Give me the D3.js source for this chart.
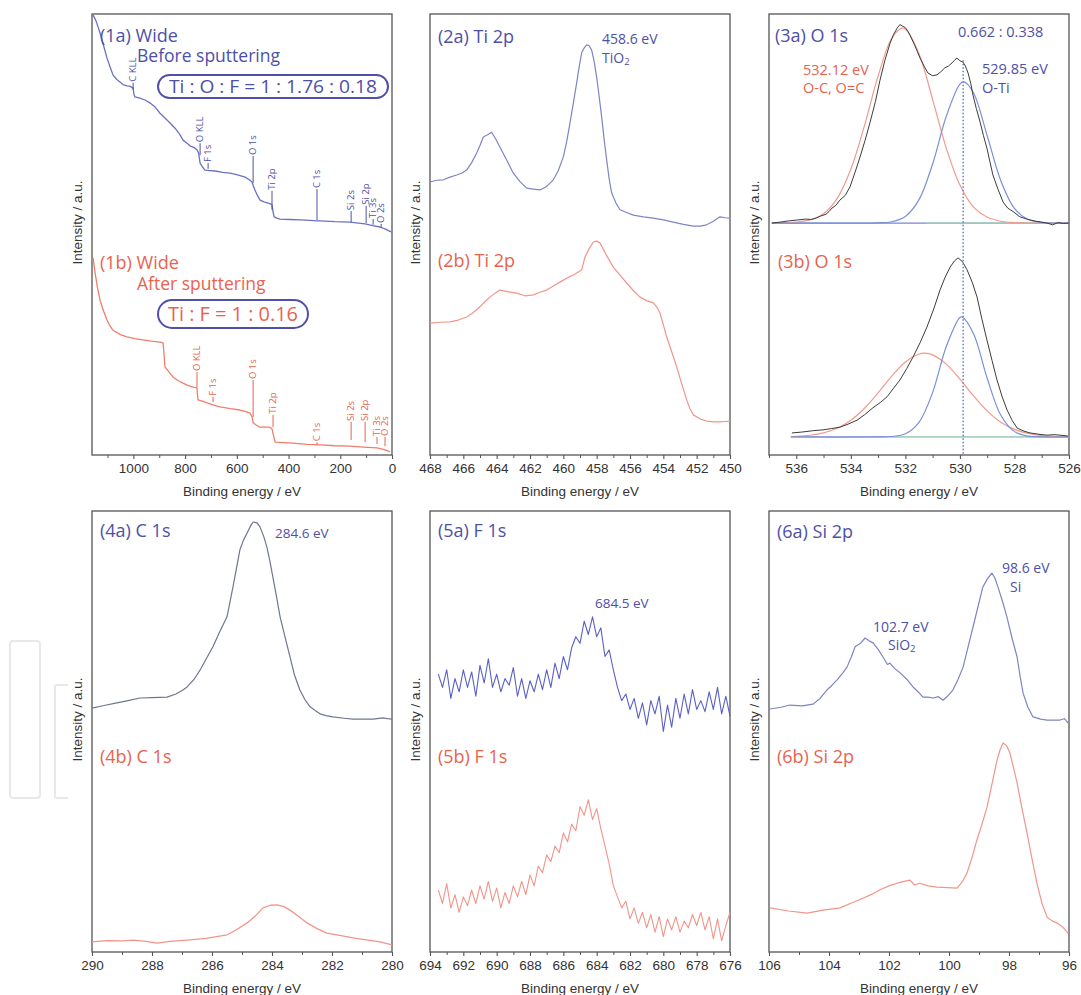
<!DOCTYPE html>
<html><head><meta charset="utf-8">
<script src="https://cdn.jsdelivr.net/npm/d3@7"></script>
<style>body{margin:0;background:#fff}svg{display:block}</style>
</head><body>
<svg id="c" width="1081" height="995"></svg>
<script>
// ---------------- DATA ----------------
// Panel 1: wide scans [binding energy eV, intensity a.u.]
const wideBefore = [[1156,99.8],[1145,98.5],[1135,96.8],[1129,95.7],[1115,92.8],[1102,90.0],[1090,88.0],[1079,86.2],[1065,85.2],[1052,84.6],[1040,84.0],[1025,83.7],[1012,83.6],[1001,83.2],[998,81.8],[994,81.2],[975,80.9],[955,80.5],[935,79.8],[916,78.9],[897,77.5],[878,76.4],[860,75.4],[839,74.1],[822,72.8],[808,71.4],[795,70.8],[781,70.1],[765,69.7],[754,69.2],[748,68.5],[742,66.2],[733,65.3],[723,64.6],[705,64.5],[684,64.4],[655,64.1],[626,63.9],[597,63.5],[568,63.0],[552,62.4],[541,61.9],[536,61.0],[530,60.1],[520,58.8],[510,57.8],[495,57.4],[479,57.1],[468,56.9],[464,56.7],[460,55.2],[456,54.0],[445,53.7],[433,53.5],[395,53.4],[356,53.3],[317,53.2],[290,53.1],[278,53.1],[220,52.9],[162,52.8],[130,52.6],[104,52.4],[75,52.0],[46,51.7],[25,51.2],[4,50.6]];
const wideAfter = [[1156,44.7],[1152,43.0],[1148,41.3],[1139,38.0],[1129,35.1],[1115,32.6],[1102,30.6],[1090,29.2],[1079,28.3],[1050,27.3],[1025,26.8],[995,26.4],[963,26.1],[930,25.8],[897,25.6],[885,25.4],[881,22.5],[878,20.0],[862,18.8],[847,17.7],[828,16.9],[808,16.3],[790,15.8],[769,15.4],[754,15.2],[752,13.5],[750,12.5],[733,12.2],[715,11.8],[690,11.3],[665,10.9],[625,10.5],[588,10.2],[568,9.9],[549,9.5],[541,8.6],[537,7.3],[525,6.8],[510,6.3],[490,6.3],[472,6.3],[464,5.9],[458,4.4],[452,2.9],[420,2.8],[383,2.7],[330,2.4],[278,2.3],[220,2.1],[162,2.0],[110,1.8],[58,1.6],[30,1.2],[8,0.7]];
const wideMarkerNames = ["C KLL","O KLL","F 1s","O 1s","Ti 2p","C 1s","Si 2s","Si 2p","Ti 3s","O 2s"];
const wideBeforeMarkerEV = [1001,742,711,537,464,290,158,100,73,42];
const wideBeforeMarkerFoot = [84.4,70.7,66.2,67.8,59.9,60.3,55.3,56.5,53.5,52.4];
const wideBeforeMarkerEnd = [82.8,68.0,64.9,61.7,55.6,53.3,52.8,52.6,52.2,51.5];
const wideAfterMarkerNames = ["O KLL","F 1s","O 1s","Ti 2p","C 1s","Si 2s","Si 2p","Ti 3s","O 2s"];
const wideAfterMarkerEV = [754,692,537,460,290,158,104,58,27];
const wideAfterMarkerFoot = [18.8,13.2,17.0,9.1,2.9,7.5,7.5,4.1,4.1];
const wideAfterMarkerEnd = [15.4,12.0,8.6,6.3,2.3,3.4,2.9,2.5,2.0];

// Panel 2: Ti 2p
const ti2pBefore = [[468,61.9],[467.6,62.3],[467.2,62.4],[466.8,63.0],[466.4,63.5],[466.1,63.9],[465.8,64.6],[465.5,66.3],[465.2,68.5],[465.0,70.2],[464.8,72.1],[464.55,72.6],[464.3,73.2],[464.05,71.6],[463.8,69.8],[463.4,66.9],[463.0,63.9],[462.6,62.0],[462.2,60.5],[461.8,60.3],[461.4,60.1],[461.0,60.9],[460.6,62.4],[460.3,64.5],[460.0,67.6],[459.8,71.0],[459.6,75.3],[459.4,79.8],[459.2,84.4],[459.05,88.0],[458.9,91.2],[458.75,92.3],[458.6,93.0],[458.45,92.8],[458.3,91.8],[458.15,89.2],[458.0,85.7],[457.85,81.3],[457.7,76.6],[457.55,71.5],[457.4,66.9],[457.25,62.6],[457.1,59.4],[456.85,57.2],[456.6,55.6],[456.2,55.0],[455.8,54.4],[455.2,54.0],[454.6,53.7],[454.0,53.3],[453.4,52.8],[452.8,52.3],[452.2,51.9],[451.8,51.9],[451.4,52.2],[451.0,53.0],[450.6,54.0],[450.3,53.8],[450,53.7]];
const ti2pAfter = [[468,29.9],[467.4,30.1],[466.8,30.2],[466.3,30.6],[465.8,31.3],[465.4,32.3],[465,33.6],[464.7,34.8],[464.4,35.8],[464.1,36.7],[463.8,37.4],[463.3,37.0],[462.8,36.7],[462.3,36.1],[461.8,36.3],[461.4,36.9],[461,37.4],[460.6,38.3],[460.2,39.2],[459.8,40.1],[459.4,40.8],[459.1,41.5],[458.9,42.0],[458.7,44.9],[458.45,46.8],[458.2,48.3],[458,48.5],[457.8,48.1],[457.4,45.2],[457,42.6],[456.6,40.8],[456.2,39.0],[455.8,37.3],[455.4,35.8],[455,35.0],[454.6,34.5],[454.4,33.6],[454.2,32.2],[454,29.5],[453.8,26.8],[453.5,23.4],[453.2,20.0],[452.9,16.2],[452.6,12.5],[452.4,10.5],[452.2,9.1],[451.8,8.2],[451.4,7.7],[451,7.5],[450.6,7.5],[450.3,7.6],[450,7.7]];

// Panel 3: O 1s with fitted components
const o1sBeforeEnvelope = [[536.89,52.6],[536.6,52.8],[536.26,53.1],[535.95,53.3],[535.64,53.5],[535.45,53.4],[535.28,53.7],[535.1,54.2],[534.91,54.6],[534.8,55.2],[534.69,56.0],[534.55,56.6],[534.4,57.8],[534.2,58.9],[534.03,60.8],[533.85,64.0],[533.66,67.6],[533.48,71.3],[533.3,75.3],[533.1,80.1],[532.93,85.0],[532.75,89.5],[532.56,93.4],[532.43,95.4],[532.3,96.8],[532.2,97.6],[532.12,97.3],[532.0,96.9],[531.9,96.0],[531.83,95.2],[531.65,92.8],[531.46,90.0],[531.3,88.0],[531.17,86.6],[531.0,86.0],[530.84,86.2],[530.7,86.9],[530.55,87.8],[530.42,88.2],[530.29,88.9],[530.2,89.5],[530.11,90.0],[530.0,89.4],[529.89,89.1],[529.8,88.2],[529.7,86.6],[529.6,84.2],[529.52,81.6],[529.4,78.6],[529.26,75.5],[529.14,72.5],[529.01,69.6],[528.9,66.5],[528.79,63.5],[528.6,60.2],[528.42,57.4],[528.25,56.0],[528.05,55.2],[527.8,54.0],[527.6,53.6],[527.43,53.3],[527.2,53.0],[527.0,52.8],[526.81,52.6],[526.6,52.2],[526.4,52.7],[526.2,52.5],[526.0,52.6]];
const o1sBeforeOC = [[536.9,52.6],[536.5,52.6],[536,52.8],[535.5,53.3],[535,54.7],[534.5,58.2],[534,64.8],[533.5,74.7],[533,85.9],[532.5,94.5],[532.12,96.8],[532,96.6],[531.5,91.0],[531,80.6],[530.5,69.6],[530,61.2],[529.5,56.2],[529,53.9],[528.5,53.0],[528,52.7],[527.5,52.6],[527,52.6],[526.5,52.6],[526,52.6]];
const o1sBeforeOTi = [[536.9,52.6],[534,52.6],[533,52.65],[532.5,52.9],[532,54.1],[531.5,57.9],[531,66.0],[530.5,76.8],[530,84.1],[529.85,84.6],[529.5,82.1],[529,72.4],[528.5,62.2],[528,55.9],[527.5,53.4],[527,52.75],[526.5,52.6],[526,52.6]];
const o1sAfterEnvelope = [[536.16,5.0],[535.8,5.2],[535.4,5.5],[535.02,5.7],[534.7,6.0],[534.4,6.3],[534.1,7.0],[533.77,7.9],[533.5,9.1],[533.19,10.7],[532.9,12.0],[532.67,13.2],[532.45,15.0],[532.2,17.0],[531.95,19.6],[531.72,22.2],[531.45,25.6],[531.21,29.0],[530.95,33.3],[530.73,37.4],[530.55,40.2],[530.36,42.6],[530.2,44.0],[530.07,44.7],[529.9,43.8],[529.74,42.0],[529.55,39.2],[529.37,35.8],[529.2,31.0],[529.01,26.1],[528.82,21.4],[528.64,17.0],[528.45,13.2],[528.27,10.2],[528.08,7.8],[527.9,6.1],[527.65,5.4],[527.43,5.0],[527.1,4.7],[526.81,4.5],[526.55,4.6],[526.33,4.5],[526.04,4.3]];
const o1sAfterOC = [[536.2,4.2],[536,4.24],[535.5,4.48],[535,5.0],[534.5,6.05],[534,7.86],[533.5,10.6],[533,14.1],[532.5,17.9],[532,21.1],[531.5,22.9],[531.3,23.1],[531,22.7],[530.5,20.6],[530,17.2],[529.5,13.4],[529,10.0],[528.5,7.4],[528,5.8],[527.5,4.9],[527,4.4],[526.5,4.2],[526,4.1]];
const o1sAfterOTi = [[536.2,4.1],[533,4.1],[532.5,4.2],[532,4.8],[531.5,7.4],[531,14.2],[530.5,24.6],[530,31.2],[529.92,31.3],[529.5,27.5],[529,17.4],[528.5,9.0],[528,5.3],[527.5,4.3],[527,4.1],[526,4.1]];
const o1sBaselineBefore = [[536.9,52.6],[526,52.6]];
const o1sBaselineBeforeGreen = [[531.2,52.6],[527,52.6]];
const o1sBaselineAfter = [[536.2,4.1],[526,4.1]];
const o1sBaselineAfterGreen = [[532.6,4.1],[526.6,4.1]];
const o1sOTiPosition = [[529.88,89.5],[529.88,0]];

// Panel 4: C 1s
const c1sBefore = [[290,55.3],[289.6,55.9],[289.17,56.5],[288.8,57.0],[288.4,57.6],[288.0,57.7],[287.5,57.8],[287.2,58.5],[286.97,59.4],[286.83,60.1],[286.6,61.8],[286.4,63.9],[286.2,66.4],[285.97,69.2],[285.75,72.5],[285.5,76.0],[285.3,82.8],[285.07,91.2],[284.95,93.4],[284.83,95.0],[284.7,96.8],[284.63,97.5],[284.5,97.3],[284.4,96.4],[284.28,94.3],[284.17,91.8],[284.07,88.6],[283.97,85.0],[283.85,80.6],[283.73,76.0],[283.55,71.0],[283.4,66.9],[283.25,62.8],[283.07,59.4],[282.9,57.2],[282.73,55.6],[282.55,54.7],[282.4,54.0],[282.2,53.6],[281.97,53.3],[281.6,53.0],[281.3,52.8],[280.9,52.8],[280.63,52.8],[280.3,53.1],[280.15,52.9],[280,52.8]];
const c1sAfter = [[290,2.3],[289.5,2.6],[289,2.5],[288.63,2.7],[288.2,2.4],[287.83,2.0],[287.4,2.4],[286.83,2.7],[286.2,3.1],[285.5,3.9],[285.2,5.0],[284.83,6.6],[284.55,8.2],[284.3,10.0],[284.05,10.6],[283.83,10.7],[283.6,10.3],[283.4,9.5],[283.1,8.0],[282.83,6.6],[282.5,5.3],[282.17,4.3],[281.7,3.7],[281.3,3.2],[280.8,2.7],[280.4,2.3],[280,1.6]];

// Panel 5: F 1s (energies 693.5 -> 676, step 0.25 eV)
const f1sEnergies = d3.range(693.5, 675.99, -0.25);
const f1sBefore = [63,60,64,57.5,62,59,64,60,63.5,58,65,61,66.5,60,63,59,62,60.5,64.5,58,62,57.5,61.5,59,63,59.5,64,60,65.5,62,67,64,69,71.5,70,75,72,76,71.5,73.5,67,68.5,64,60,57,58.5,55,57.5,53,56.5,51.5,57,54,58,50,56,51,57.5,53,58.5,54,59.5,55,57,54.5,59,55,60,54,58,53.5];
const f1sAfter = [14,11,15.5,10,13,9,12.5,10.5,14,11,15,12,16,11.5,14.5,10,13.5,11,15,12.5,16,13,17.5,15,19.5,18,22,20.5,24,22.5,27,25,29,27.5,33,31,34.5,30,32.5,28,24,20,15,12.5,10,11.5,7.5,10,6.5,9,5.5,8.5,4.5,8,3.5,7.5,5,8,4.5,7,5.5,8.5,6,9,5,8,3,7.5,2.5,6,9];

// Panel 6: Si 2p
const si2pBefore = [[105.97,55.1],[105.6,55.5],[105.3,56.0],[104.9,55.8],[104.53,56.2],[104.3,57.5],[104.07,59.4],[103.9,60.5],[103.73,61.7],[103.55,63.2],[103.4,64.6],[103.25,67.0],[103.13,69.2],[102.95,70.0],[102.8,71.2],[102.65,70.5],[102.53,70.1],[102.35,68.5],[102.2,66.9],[102.05,65.2],[101.97,65.5],[101.8,64.2],[101.63,63.3],[101.4,61.8],[101.2,60.1],[101.0,58.8],[100.87,57.8],[100.7,57.8],[100.53,57.6],[100.35,57.9],[100.2,57.1],[100.05,58.0],[99.87,59.4],[99.7,61.8],[99.53,64.6],[99.37,69.0],[99.2,73.7],[99.03,78.4],[98.87,82.8],[98.72,84.6],[98.57,85.9],[98.47,84.8],[98.37,82.8],[98.22,79.6],[98.07,76.0],[97.9,71.2],[97.73,66.9],[97.63,62.5],[97.53,58.7],[97.37,55.5],[97.2,53.3],[96.95,52.8],[96.73,52.6],[96.5,52.6],[96.3,52.6],[96.15,52.9],[96.03,51.9]];
const si2pAfter = [[105.97,10.0],[105.35,9.3],[104.73,8.8],[104.2,9.5],[103.63,10.0],[103.25,11.1],[102.87,12.2],[102.6,13.0],[102.3,14.1],[102.0,15.0],[101.73,15.6],[101.5,16.0],[101.3,16.3],[101.15,15.2],[100.97,15.6],[100.7,15.0],[100.4,14.7],[100.05,14.6],[99.73,14.5],[99.55,16.0],[99.4,17.9],[99.23,21.5],[99.07,25.4],[98.9,29.0],[98.73,32.9],[98.57,38.0],[98.4,43.5],[98.3,45.8],[98.2,47.4],[98.08,46.8],[97.97,45.1],[97.85,41.8],[97.73,38.3],[97.57,32.6],[97.4,27.0],[97.23,21.0],[97.07,15.6],[96.9,11.0],[96.73,7.9],[96.55,7.0],[96.4,6.6],[96.2,5.6],[96.03,4.3]];

// Tick values
const wideTicks = [1000,800,600,400,200,0], wideMinor = [1100,900,700,500,300,100];
const ti2pTicks = [468,466,464,462,460,458,456,454,452,450], ti2pMinor = [467,465,463,461,459,457,455,453,451];
const o1sTicks = [536,534,532,530,528,526], o1sMinor = [537,535,533,531,529,527];
const c1sTicks = [290,288,286,284,282,280], c1sMinor = [289,287,285,283,281];
const f1sTicks = [694,692,690,688,686,684,682,680,678,676], f1sMinor = [693,691,689,687,685,683,681,679,677];
const si2pTicks = [106,104,102,100,98,96], si2pMinor = [105,103,101,99,97];

// ---------------- DRAWING ----------------
const svg = d3.select("#c");
const FA = "'Liberation Sans', Arial, sans-serif";
const FL = "'Open Sans', 'Noto Sans', sans-serif";
const BLUE = "#4e50a8", RED = "#e8634e";
const C_BLUE = "#6a72c2", C_BLUE2 = "#7d85c2", C_GRAY = "#6f7690", C_RED = "#ef7e6c", C_RED2 = "#f1958a";

// faint background decoration (watermark)
svg.append("rect").attr("x",10).attr("y",641).attr("width",30).attr("height",157).attr("rx",3)
  .attr("fill","none").attr("stroke","#e8e8e8").attr("stroke-width",2);
svg.append("path").attr("d","M68,685 H57 Q55,685 55,687 V796 Q55,798 57,798 H68")
  .attr("fill","none").attr("stroke","#e8e8e8").attr("stroke-width",2);

const panels = [
  {x0:92, x1:392, y0:14, y1:455, dom:[1160,0], major:wideTicks, minor:wideMinor},
  {x0:430,x1:730, y0:14, y1:455, dom:[468,450], major:ti2pTicks, minor:ti2pMinor},
  {x0:769,x1:1069,y0:14, y1:455, dom:[537,526], major:o1sTicks, minor:o1sMinor},
  {x0:92, x1:392, y0:511,y1:952, dom:[290,280], major:c1sTicks, minor:c1sMinor},
  {x0:430,x1:730, y0:511,y1:952, dom:[694,676], major:f1sTicks, minor:f1sMinor},
  {x0:769,x1:1069,y0:511,y1:952, dom:[106,96], major:si2pTicks, minor:si2pMinor}
];

panels.forEach(p => {
  p.x = d3.scaleLinear().domain(p.dom).range([p.x0, p.x1]);
  p.y = d3.scaleLinear().domain([0,100]).range([p.y1, p.y0]);
  p.g = svg.append("g");
  p.g.append("rect").attr("x",p.x0).attr("y",p.y0).attr("width",p.x1-p.x0).attr("height",p.y1-p.y0)
    .attr("fill","none").attr("stroke","#555").attr("stroke-width",1.3);
  const ax = p.g.append("g").attr("transform",`translate(0,${p.y1})`)
    .call(d3.axisBottom(p.x).tickValues(p.major).tickSize(4).tickPadding(4).tickFormat(d3.format("d")));
  ax.select(".domain").remove();
  ax.selectAll("line").attr("stroke","#555").attr("stroke-width",1.1);
  ax.selectAll("text").attr("font-family",FA).attr("font-size",13.5).attr("fill","#333");
  const mx = p.g.append("g").attr("transform",`translate(0,${p.y1})`)
    .call(d3.axisBottom(p.x).tickValues(p.minor).tickSize(3).tickFormat(""));
  mx.select(".domain").remove();
  mx.selectAll("line").attr("stroke","#555").attr("stroke-width",1);
  p.g.append("text").attr("x",(p.x0+p.x1)/2).attr("y",p.y1+41).attr("text-anchor","middle")
    .attr("font-family",FA).attr("font-size",13.5).attr("fill","#333").text("Binding energy / eV");
  const cy = (p.y0+p.y1)/2 - 12;
  p.g.append("text").attr("transform",`translate(${p.x0-15},${cy}) rotate(-90)`).attr("text-anchor","middle")
    .attr("dy","0.35em").attr("font-family",FA).attr("font-size",13.5).attr("fill","#333").text("Intensity / a.u.");
});

function trace(p, data, color, w, curve) {
  const line = d3.line().x(d=>p.x(d[0])).y(d=>p.y(d[1])).curve(curve || d3.curveLinear);
  p.g.append("path").datum(data).attr("d",line).attr("fill","none").attr("stroke",color)
    .attr("stroke-width",w||1.2).attr("stroke-linejoin","round");
}
function label(p, dx, dy, txt, color, size) {
  const t = p.g.append("text").attr("x",p.x0+dx).attr("y",p.y0+dy).attr("font-family",FL)
    .attr("font-size",size).attr("fill",color);
  if (Array.isArray(txt)) {
    t.append("tspan").text(txt[0]);
    t.append("tspan").attr("font-size",size*0.68).attr("dy",size*0.15).text(txt[1]);
  } else t.text(txt);
  return t;
}
function markers(p, names, evs, foot, end, color) {
  names.forEach((n,i) => {
    const x = p.x(evs[i]);
    p.g.append("line").attr("x1",x).attr("x2",x).attr("y1",p.y(foot[i])).attr("y2",p.y(end[i]))
      .attr("stroke",color).attr("stroke-width",1);
    p.g.append("text").attr("transform",`translate(${x},${p.y(foot[i])-1}) rotate(-90)`).attr("dy","0.35em")
      .attr("font-family",FL).attr("font-size",9.5).attr("fill",color).text(n);
  });
}
function box(p, dx, dy, w, h, txt, color, size, tw) {
  p.g.append("rect").attr("x",p.x0+dx).attr("y",p.y0+dy).attr("width",w).attr("height",h).attr("rx",h/2)
    .attr("fill","none").attr("stroke","#5050a8").attr("stroke-width",2);
  p.g.append("text").attr("x",p.x0+dx+w/2).attr("y",p.y0+dy+h/2).attr("dy","0.36em").attr("text-anchor","middle")
    .attr("font-family",FL).attr("font-size",size).attr("fill",color)
    .attr("textLength",tw).attr("lengthAdjust","spacingAndGlyphs").text(txt);
}

const [P1,P2,P3,P4,P5,P6] = panels;

// Panel 1
trace(P1, wideBefore, C_BLUE, 1.3);
trace(P1, wideAfter, C_RED, 1.3);
markers(P1, wideMarkerNames, wideBeforeMarkerEV, wideBeforeMarkerFoot, wideBeforeMarkerEnd, BLUE);
markers(P1, wideAfterMarkerNames, wideAfterMarkerEV, wideAfterMarkerFoot, wideAfterMarkerEnd, RED);
label(P1, 8, 28, "(1a) Wide", BLUE, 18);
label(P1, 45, 48, "Before sputtering", BLUE, 17.5);
box(P1, 66, 61, 230, 23, "Ti : O : F = 1 : 1.76 : 0.18", BLUE, 19, 208);
label(P1, 8, 255, "(1b) Wide", RED, 18);
label(P1, 45, 276, "After sputtering", RED, 17.5);
box(P1, 66, 286, 150, 28, "Ti : F = 1 : 0.16", RED, 20, 130);

// Panel 2
trace(P2, ti2pBefore, C_BLUE2, 1.2);
trace(P2, ti2pAfter, C_RED2, 1.2);
label(P2, 8, 29, "(2a) Ti 2p", BLUE, 18);
label(P2, 172, 30, "458.6 eV", BLUE, 14);
label(P2, 172, 49, ["TiO","2"], BLUE, 14);
label(P2, 8, 253, "(2b) Ti 2p", RED, 18);

// Panel 3
trace(P3, o1sBaselineBefore, "#7488d8", 1.2);
trace(P3, o1sBaselineBeforeGreen, "#9fd6a8", 1.2);
trace(P3, o1sBaselineAfter, "#9aa6e0", 1.2);
trace(P3, o1sBaselineAfterGreen, "#a9dcb0", 1.2);
trace(P3, o1sBeforeOC, "#f19a8a", 1.2, d3.curveCatmullRom);
trace(P3, o1sBeforeOTi, "#7a90d8", 1.2, d3.curveCatmullRom);
trace(P3, o1sAfterOC, "#f19a8a", 1.2, d3.curveCatmullRom);
trace(P3, o1sAfterOTi, "#7a90d8", 1.2, d3.curveCatmullRom);
trace(P3, o1sBeforeEnvelope, "#3c3c3c", 1);
trace(P3, o1sAfterEnvelope, "#3c3c3c", 1);
P3.g.append("path").datum(o1sOTiPosition)
  .attr("d", d3.line().x(d=>P3.x(d[0])).y(d=>P3.y(d[1])))
  .attr("stroke","#6f80d6").attr("stroke-width",1.6).attr("stroke-dasharray","1.5,2").attr("fill","none");
label(P3, 6, 28, "(3a) O 1s", BLUE, 18);
label(P3, 189, 23, "0.662 : 0.338", BLUE, 14.5);
label(P3, 34, 61, "532.12 eV", RED, 14.5);
label(P3, 34, 79, "O-C, O=C", RED, 14.5);
label(P3, 213, 60, "529.85 eV", BLUE, 14.5);
label(P3, 213, 79, "O-Ti", BLUE, 14.5);
label(P3, 9, 254, "(3b) O 1s", RED, 18);

// Panel 4
trace(P4, c1sBefore, C_GRAY, 1.2);
trace(P4, c1sAfter, C_RED2, 1.3);
label(P4, 8, 26, "(4a) C 1s", BLUE, 18);
label(P4, 183, 27, "284.6 eV", BLUE, 13.5);
label(P4, 8, 252, "(4b) C 1s", RED, 18);

// Panel 5
trace(P5, f1sEnergies.map((e,i)=>[e,f1sBefore[i]]), "#5a60c4", 1.1);
trace(P5, f1sEnergies.map((e,i)=>[e,f1sAfter[i]]), C_RED2, 1.1);
label(P5, 8, 26, "(5a) F 1s", BLUE, 18);
label(P5, 165, 97, "684.5 eV", BLUE, 13.5);
label(P5, 8, 252, "(5b) F 1s", RED, 18);

// Panel 6
trace(P6, si2pBefore, C_BLUE2, 1.2);
trace(P6, si2pAfter, C_RED2, 1.2);
label(P6, 8, 27, "(6a) Si 2p", BLUE, 18);
label(P6, 233, 62, "98.6 eV", BLUE, 14);
label(P6, 241, 81, "Si", BLUE, 14);
label(P6, 104, 121, "102.7 eV", BLUE, 14);
label(P6, 119, 139, ["SiO","2"], BLUE, 14);
label(P6, 8, 252, "(6b) Si 2p", RED, 18);
</script>
</body></html>
